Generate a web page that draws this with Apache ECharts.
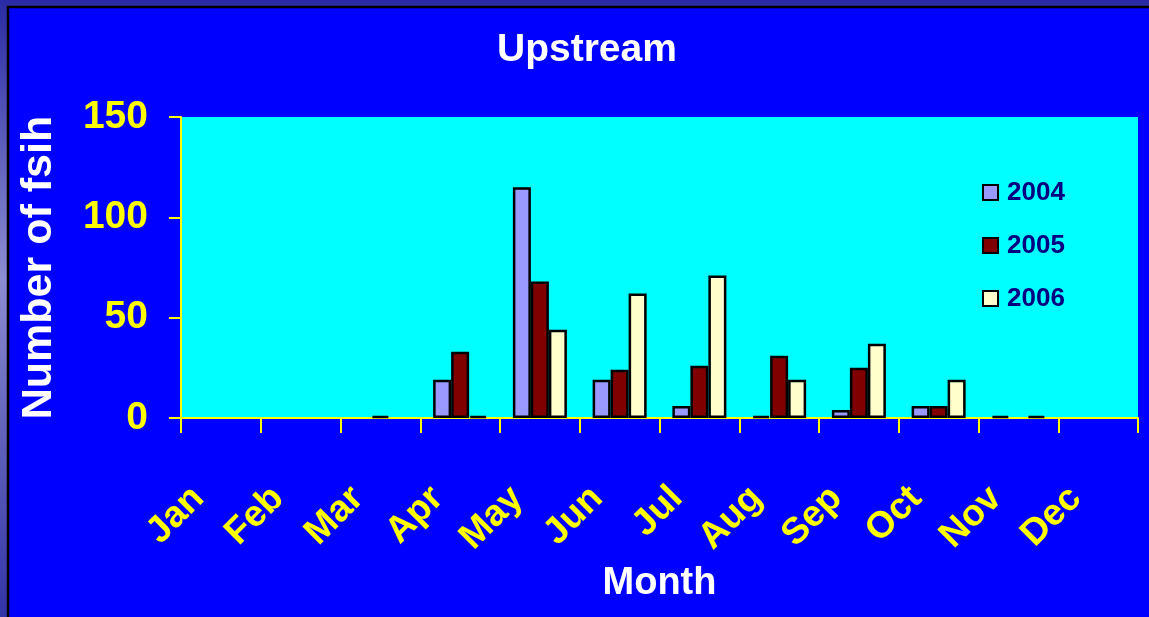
<!DOCTYPE html>
<html>
<head>
<meta charset="utf-8">
<script src="https://cdn.jsdelivr.net/npm/echarts@6/dist/echarts.min.js"></script>
<style>
  html, body { margin: 0; padding: 0; background: #0000ff; }
  #chart { width: 1149px; height: 617px; }
</style>
</head>
<body>
<div id="chart"></div>
<script>
const months = ['Jan', 'Feb', 'Mar', 'Apr', 'May', 'Jun', 'Jul', 'Aug', 'Sep', 'Oct', 'Nov', 'Dec']
const years = ['2004', '2005', '2006']
const fish2004 = [0, 0, 0, 19, 115, 19, 6, 1, 4, 6, 1, 0]
const fish2005 = [0, 0, 1, 33, 68, 24, 26, 31, 25, 6, 0, 0]
const fish2006 = [0, 0, 0, 1, 44, 62, 71, 19, 37, 19, 1, 0]
const yTicks = [0, 50, 100, 150]

const colors = ['#9999ff', '#800000', '#ffffcc']
const font = 'Liberation Sans, Arial, sans-serif'

const chart = echarts.init(document.getElementById('chart'))

// zero months show no bar at all in the original, so leave them empty
const barSeries = [fish2004, fish2005, fish2006].map((data, i) => ({
  name: years[i],
  type: 'bar',
  data: data.map(v => (v === 0 ? '-' : v)),
  barWidth: 18,
  barGap: '0%',
  itemStyle: { color: colors[i], borderColor: '#000', borderWidth: 2.5 }
}))

chart.setOption({
  backgroundColor: '#0000ff',
  animation: false,
  // slide frame
  graphic: [
    {
      type: 'rect', z: -10, silent: true,
      shape: { x: 0, y: 0, width: 1149, height: 617 },
      style: {
        fill: new echarts.graphic.LinearGradient(0, 0, 0, 1, [
          { offset: 0, color: '#2a2aa4' },
          { offset: 0.45, color: '#8c8cd2' },
          { offset: 0.75, color: '#5a5ab8' },
          { offset: 1, color: '#3232a8' }
        ])
      }
    },
    {
      type: 'rect', z: -9, silent: true,
      shape: { x: 8, y: 7, width: 1200, height: 700 },
      style: { fill: '#0000ff', stroke: '#000', lineWidth: 2.5 }
    }
  ],
  title: {
    text: 'Upstream',
    left: 492,
    top: 26,
    textStyle: { color: '#fff', fontFamily: font, fontWeight: 'bold', fontSize: 39 }
  },
  legend: {
    orient: 'vertical',
    left: 982,
    top: 179,
    padding: 0,
    itemWidth: 15,
    itemHeight: 15,
    itemGap: 26,
    icon: 'rect',
    data: years,
    itemStyle: { borderColor: '#000', borderWidth: 2 },
    textStyle: { color: '#000080', fontFamily: font, fontWeight: 'bold', fontSize: 26, lineHeight: 27, padding: [0, 0, 0, 4] }
  },
  grid: {
    left: 181,
    right: 11,
    top: 117,
    bottom: 199,
    show: true,
    backgroundColor: '#00ffff',
    borderWidth: 0
  },
  xAxis: {
    type: 'category',
    data: months,
    name: 'Month',
    nameLocation: 'middle',
    nameGap: 147,
    nameTextStyle: { color: '#fff', fontFamily: font, fontWeight: 'bold', fontSize: 38 },
    axisLine: { lineStyle: { color: '#ffff00', width: 2 } },
    axisTick: { show: true, length: 15, lineStyle: { color: '#ffff00', width: 2 } },
    axisLabel: {
      interval: 0,
      rotate: 45,
      margin: 52,
      padding: [0, 32, 0, 0],
      color: '#ffff00',
      fontFamily: font,
      fontWeight: 'bold',
      fontSize: 37
    },
    splitLine: { show: false }
  },
  yAxis: {
    type: 'value',
    min: 0,
    max: 150,
    interval: 50,
    name: 'Number of fsih',
    nameLocation: 'middle',
    nameRotate: 90,
    nameGap: 120,
    nameTextStyle: { color: '#fff', fontFamily: font, fontWeight: 'bold', fontSize: 43 },
    axisLine: { show: true, lineStyle: { color: '#ffff00', width: 2 } },
    axisTick: { show: true, length: 12, lineStyle: { color: '#ffff00', width: 2 } },
    axisLabel: {
      margin: 33,
      padding: [10, 0, 0, 0],
      color: '#ffff00',
      fontFamily: font,
      fontWeight: 'bold',
      fontSize: 39,
      formatter: v => (yTicks.includes(v) ? String(v) : '')
    },
    splitLine: { show: false }
  },
  series: barSeries
})
</script>
</body>
</html>
